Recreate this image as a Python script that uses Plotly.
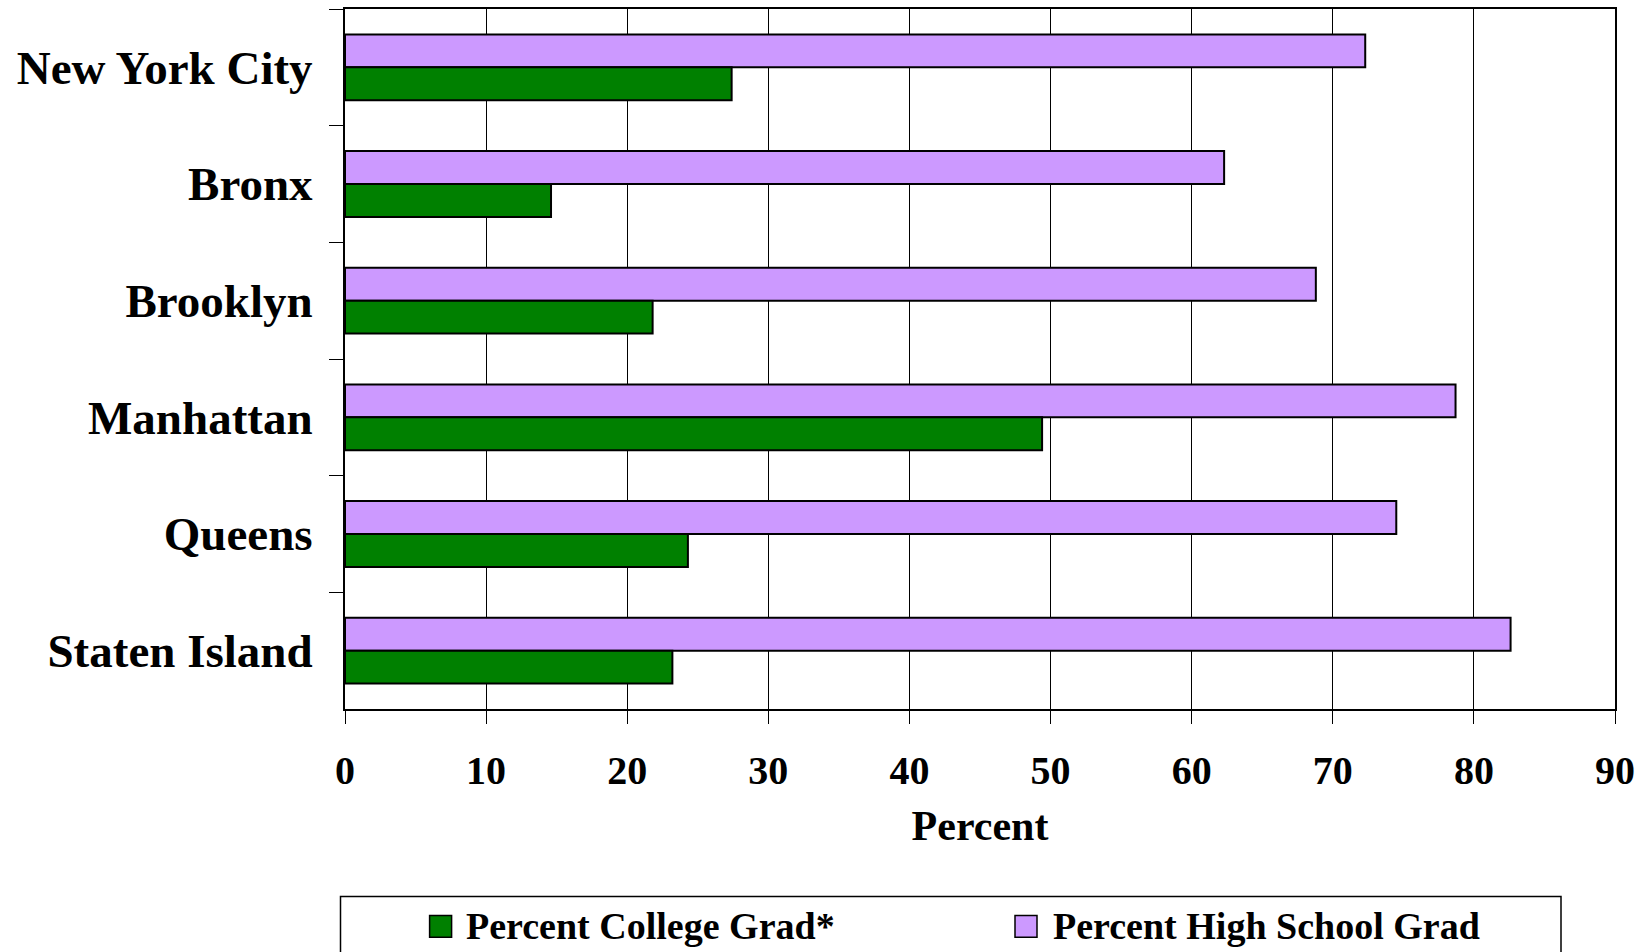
import plotly.graph_objects as go

# Educational attainment by borough
boroughs = ["New York City", "Bronx", "Brooklyn", "Manhattan", "Queens", "Staten Island"]
high_school_grad = [72.3, 62.3, 68.8, 78.7, 74.5, 82.6]
college_grad = [27.4, 14.6, 21.8, 49.4, 24.3, 23.2]
x_ticks = [0, 10, 20, 30, 40, 50, 60, 70, 80, 90]
series_names = ["Percent College Grad*", "Percent High School Grad"]

GREEN = "#008000"
PURPLE = "#CC99FF"
FONT = "Liberation Serif"

W, H = 1643, 952
M_L, M_R, M_T, M_B = 345, 28, 7, 243


def fx(px):
    """pixel x -> paper x"""
    return (px - M_L) / (W - M_L - M_R)


def fy(py):
    """pixel y -> paper y"""
    return (H - M_B - py) / (H - M_T - M_B)


fig = go.Figure()
fig.add_trace(go.Bar(
    y=boroughs, x=high_school_grad, orientation="h", name=series_names[1],
    marker=dict(color=PURPLE, line=dict(color="black", width=2)),
    showlegend=False,
))
fig.add_trace(go.Bar(
    y=boroughs, x=college_grad, orientation="h", name=series_names[0],
    marker=dict(color=GREEN, line=dict(color="black", width=2)),
    showlegend=False,
))

# legend frame, swatches and labels
shapes = [
    dict(type="rect", xref="paper", yref="paper",
         x0=fx(340.5), x1=fx(1561), y0=fy(1000), y1=fy(897),
         line=dict(color="black", width=1.5), fillcolor="white", layer="below"),
]
annotations = []
for sx, tx, color, label in [(429.6, 464, GREEN, series_names[0]),
                             (1015, 1051, PURPLE, series_names[1])]:
    shapes.append(dict(type="rect", xref="paper", yref="paper",
                       x0=fx(sx), x1=fx(sx + 22), y0=fy(938), y1=fy(916),
                       line=dict(color="black", width=1.5), fillcolor=color))
    annotations.append(dict(xref="paper", yref="paper", x=fx(tx), y=fy(927),
                            xanchor="left", yanchor="middle", showarrow=False,
                            text=label,
                            font=dict(family=FONT, size=38, color="black", weight="bold")))

fig.update_layout(
    width=W, height=H,
    margin=dict(l=M_L, r=M_R, t=M_T, b=M_B, pad=0),
    paper_bgcolor="white", plot_bgcolor="white",
    barmode="group", bargap=0.436, bargroupgap=0,
    shapes=shapes, annotations=annotations,
    showlegend=False,
    xaxis=dict(
        range=[0, 90], tickvals=x_ticks, ticktext=[str(v) for v in x_ticks],
        ticks="outside", ticklen=13, tickwidth=1, tickcolor="black",
        showgrid=True, gridcolor="black", gridwidth=1, zeroline=False,
        showline=True, linecolor="black", linewidth=2, mirror=True,
        tickfont=dict(family=FONT, size=40, color="black", weight="bold"),
        ticklabelstandoff=12,
        title=dict(text="Percent", standoff=19,
                   font=dict(family=FONT, size=42, color="black", weight="bold")),
    ),
    yaxis=dict(
        type="category", autorange="reversed", tickson="boundaries",
        ticks="outside", ticklen=14, tickwidth=1, tickcolor="black",
        showgrid=False, zeroline=False,
        showline=True, linecolor="black", linewidth=2, mirror=True,
        tickfont=dict(family=FONT, size=47, color="black", weight="bold"),
        ticklabelstandoff=21,
    ),
)

fig.write_html("out.html")
